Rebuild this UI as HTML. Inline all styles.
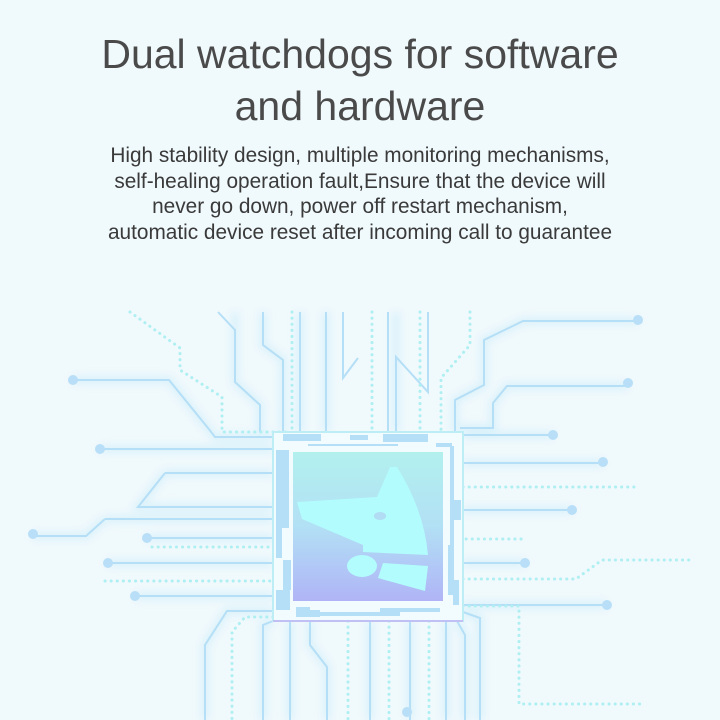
<!DOCTYPE html>
<html><head><meta charset="utf-8"><style>
html,body{margin:0;padding:0;width:720px;height:720px;overflow:hidden;background:#f0f9fc;font-family:"Liberation Sans",sans-serif}
.t{position:absolute;left:0;width:720px;text-align:center;color:#4a4a4a}
</style></head><body>
<div class="t" style="top:28px;font-size:41px;line-height:52px;">Dual watchdogs for software<br>and hardware</div>
<div class="t" style="top:143px;font-size:20.8px;line-height:25.5px;color:#3a3a3a">High stability design, multiple monitoring mechanisms,<br>self-healing operation fault,Ensure that the device will<br>never go down, power off restart mechanism,<br>automatic device reset after incoming call to guarantee</div>
<svg width="720" height="720" style="position:absolute;left:0;top:0">
<defs>
<filter id="g" x="-50%" y="-50%" width="200%" height="200%"><feGaussianBlur stdDeviation="4"/></filter>
<linearGradient id="gr" x1="0" y1="0" x2="0" y2="1"><stop offset="0" stop-color="#b2f0ee"/><stop offset="0.5" stop-color="#b2e0f5"/><stop offset="1" stop-color="#b0b4f6"/></linearGradient>
</defs>
<g fill="none" stroke="#d6f0fa" stroke-width="8" filter="url(#g)" opacity="0.8">
<path d="M73,380H169L215,437H273M100,449H273M165,473H273M165,473L138,507H273M105,519H273M105,519L86,536H33M147,538H273M108,563H273M135,596H273M273,611H227L205,645V720M273,621L263,625V720M290,621V720M310,621V645L327,667V720M235,312V382L260,405V432M263,312V345L283,360V432M300,312V432M326,312V432M455,432V400L484,385V340L523,321H638M460,428H493V403L507,386H628M463,435H553M463,463H603M463,510H572M463,563H525M463,605H607M370,621V720M410,621V720M446,621V720M457,621L465,635V720M463,612L480,618V720M396,312V432"/>
</g>
<g fill="none" stroke="#b5dff6" stroke-width="2">
<path d="M73,380H169L208,428L215,437H273M100,449H273M165,473H273M165,473L138,507H273M105,519H273M105,519L86,536H33M147,538H273M108,563H273M135,596H273M273,611H227L205,645V720M273,621L263,625V720M290,621V720M310,621V645L327,667V720M218,312L235,330V382L260,405V432M263,312V345L283,360V432M300,312V432M326,312V432M343,312V378L358,358M455,432V400L484,385V340L523,321H638M460,428H493V403L507,386H628M463,435H553M463,463H603M463,510H572M463,563H525M463,605H607M370,621V720M410,621V720M446,621V720M457,621L465,635V720M463,612L480,618V720M388,312V432M428,312V392L396,357V432"/>
</g>
<g fill="none" stroke="#aeeff2" stroke-width="3" stroke-dasharray="0.1 6" stroke-linecap="round">
<path d="M130,312L180,348V370L222,397V432H290M292,312V432M372,312V430M420,312V432M470,312V345L441,378V432M152,547H273M105,581H273M273,617H245L232,632V720M348,621V720M463,487H637M460,539H526M463,579H576L602,560H690M463,606H519V704H641M389,621V720M429,621V720"/>
</g>
<g fill="#b8dff7">
<circle cx="73" cy="380" r="5"/><circle cx="100" cy="449" r="5"/><circle cx="33" cy="534" r="5"/><circle cx="147" cy="538" r="5"/><circle cx="108" cy="563" r="5"/><circle cx="135" cy="596" r="5"/><circle cx="638" cy="320" r="5"/><circle cx="628" cy="383" r="5"/><circle cx="553" cy="435" r="5"/><circle cx="603" cy="462" r="5"/><circle cx="572" cy="510" r="5"/><circle cx="525" cy="563" r="5"/><circle cx="607" cy="605" r="5"/><circle cx="407" cy="712" r="5"/>
</g>
<rect x="273" y="432" width="190" height="189" fill="#f2fbfd" stroke="#bdeef6" stroke-width="2"/>
<line x1="273" y1="621" x2="463" y2="621" stroke="#c0c0f4" stroke-width="2"/>
<g fill="#b5dff6">
<rect x="283" y="434" width="38" height="7"/><rect x="350" y="435" width="18" height="5"/><rect x="383" y="434" width="45" height="8"/><rect x="308" y="444" width="90" height="2"/>
<rect x="436" y="443" width="16" height="4"/><rect x="450" y="446" width="4" height="100"/><rect x="453" y="500" width="8" height="20"/><rect x="448" y="545" width="6" height="50"/><rect x="453" y="580" width="6" height="25"/>
<rect x="276" y="450" width="13" height="78"/><rect x="276" y="528" width="6" height="30"/><rect x="283" y="560" width="8" height="30"/><rect x="276" y="590" width="14" height="20"/>
<rect x="296" y="607" width="14" height="10"/><rect x="310" y="610" width="10" height="7"/><rect x="320" y="612" width="80" height="4"/><rect x="380" y="608" width="60" height="4"/>
</g>
<rect x="293" y="452" width="150" height="149" fill="url(#gr)"/>
<g fill="#b2fcfd">
<path d="M297,502L377,497L390,467L397,467Q424,510 428,555L363,552L363,545L302,519Z"/>
<path d="M383,563L428,566L425,591L378,578Z"/>
<ellipse cx="362" cy="566" rx="15" ry="11"/>
</g>
<ellipse cx="380" cy="516" rx="6" ry="4" fill="#b2dcf4"/>
</svg>
</body></html>
